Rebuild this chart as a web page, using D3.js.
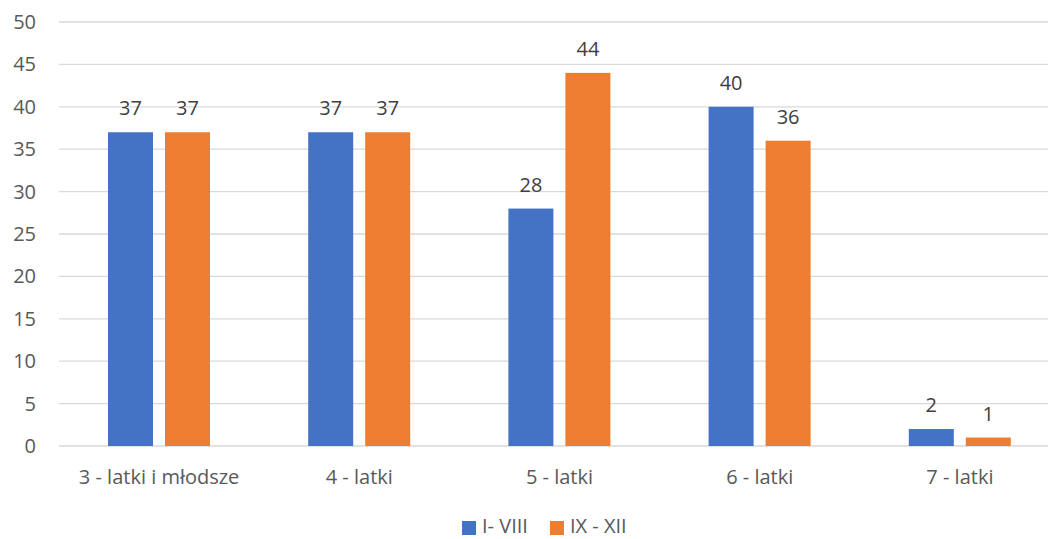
<!DOCTYPE html>
<html><head><meta charset="utf-8">
<script src="https://cdn.jsdelivr.net/npm/d3@7"></script>
<style>body{margin:0;background:#fff;} svg{display:block;}</style>
</head><body>
<svg id="c" width="1048" height="539"></svg>
<script>
const categories = ["3 - latki i młodsze", "4 - latki", "5 - latki", "6 - latki", "7 - latki"];
const seriesNames = ["I- VIII", "IX - XII"];
const seriesA = [37, 37, 28, 40, 2];
const seriesB = [37, 37, 44, 36, 1];
const yTicks = [0, 5, 10, 15, 20, 25, 30, 35, 40, 45, 50];
const colors = ["#4472C4", "#ED7D31"];

const FONT = "'Open Sans', 'Noto Sans', sans-serif";
const FS = 20;
const svg = d3.select("#c");
const x = d3.scaleBand().domain(categories).range([59, 1060]).paddingInner(0).paddingOuter(0);
const x1 = d3.scaleBand().domain(seriesNames).range([49, 151]).paddingInner(12 / 57);
const y = d3.scaleLinear().domain([0, 50]).range([446, 22]);

// gridlines
svg.append("g").selectAll("line").data(yTicks).join("line")
  .attr("x1", 59).attr("x2", 1060)
  .attr("y1", d => y(d)).attr("y2", d => y(d))
  .attr("stroke", "#D9D9D9").attr("stroke-width", 1.3);

// y tick labels
svg.append("g").selectAll("text").data(yTicks).join("text")
  .attr("x", 36).attr("y", d => y(d)).attr("dy", "0.35em")
  .attr("text-anchor", "end").attr("font-family", FONT).attr("font-size", FS)
  .attr("fill", "#595959").text(d => d);

const data = [];
categories.forEach((c, i) => {
  data.push({c, s: seriesNames[0], v: seriesA[i], col: colors[0]});
  data.push({c, s: seriesNames[1], v: seriesB[i], col: colors[1]});
});

svg.append("g").selectAll("rect").data(data).join("rect")
  .attr("x", d => x(d.c) + x1(d.s))
  .attr("width", x1.bandwidth())
  .attr("y", d => y(d.v))
  .attr("height", d => y(0) - y(d.v))
  .attr("fill", d => d.col);

svg.append("g").selectAll("text").data(data).join("text")
  .attr("x", d => x(d.c) + x1(d.s) + x1.bandwidth() / 2)
  .attr("y", d => y(d.v) - 17)
  .attr("text-anchor", "middle").attr("font-family", FONT).attr("font-size", FS)
  .attr("fill", "#404040").text(d => d.v);

// category labels
svg.append("g").selectAll("text").data(categories).join("text")
  .attr("x", d => x(d) + x.bandwidth() / 2)
  .attr("y", 484)
  .attr("text-anchor", "middle").attr("font-family", FONT).attr("font-size", FS)
  .attr("fill", "#595959").text(d => d);

// legend
const legendX = [462, 550];
const lg = svg.append("g").selectAll("g").data(seriesNames).join("g")
  .attr("transform", (d, i) => `translate(${legendX[i]},0)`);
lg.append("rect").attr("x", 0).attr("y", 521).attr("width", 14).attr("height", 14)
  .attr("fill", (d, i) => colors[i]);
lg.append("text").attr("x", 20).attr("y", 532.5)
  .attr("font-family", FONT).attr("font-size", FS).attr("fill", "#595959").text(d => d);
</script>
</body></html>
